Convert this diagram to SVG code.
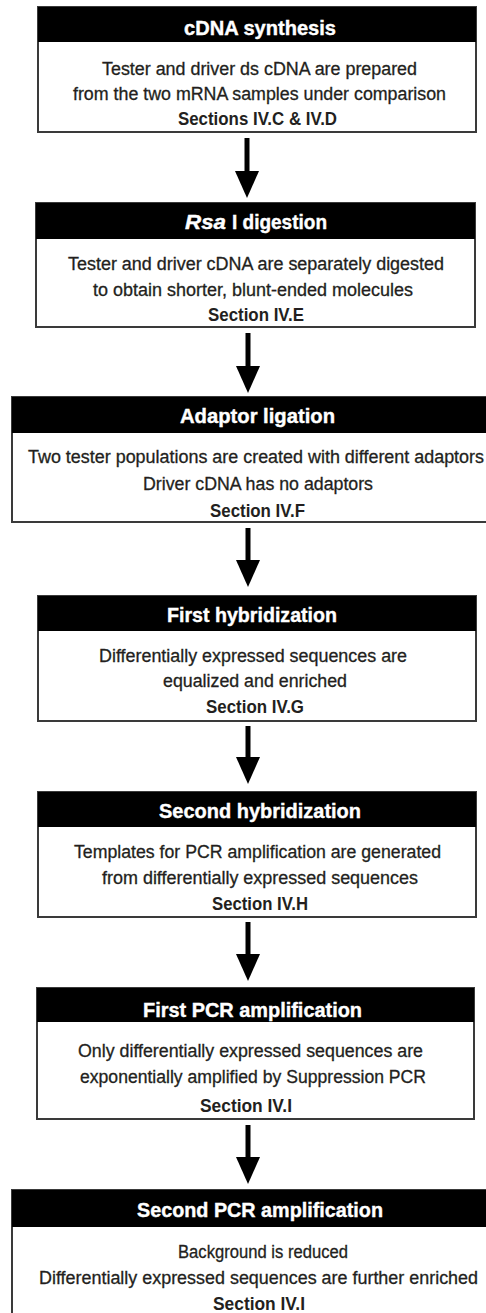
<svg xmlns="http://www.w3.org/2000/svg" width="486" height="1313" viewBox="0 0 486 1313">
  <style>
    .frame { fill: #ffffff; stroke: #3a3a3a; stroke-width: 2; }
    .bar { fill: #000000; }
    .title { font-family: "Liberation Sans", Arial, sans-serif; font-weight: bold; font-size: 20.5px; fill: #ffffff; stroke: #ffffff; stroke-width: 0.4; }
    .body { font-family: "Liberation Sans", Arial, sans-serif; font-size: 18px; fill: #231f20; stroke: #231f20; stroke-width: 0.3; }
    .ref { font-family: "Liberation Sans", Arial, sans-serif; font-weight: bold; font-size: 18px; fill: #231f20; }
    .flow { stroke: #000000; stroke-width: 5; fill: none; marker-end: url(#head); }
  </style>
  <defs>
    <marker id="head" markerUnits="userSpaceOnUse" markerWidth="28" markerHeight="24" refX="1" refY="12" orient="auto">
      <path d="M0,0 L27,12 L0,24 Z" fill="#000000"/>
    </marker>
  </defs>

  <!-- step connectors -->
  <g id="connectors">
    <line class="flow" x1="247" y1="138" x2="247" y2="172"/>
    <line class="flow" x1="248" y1="333" x2="248" y2="367"/>
    <line class="flow" x1="248" y1="528" x2="248" y2="561"/>
    <line class="flow" x1="248" y1="726" x2="248" y2="758"/>
    <line class="flow" x1="248" y1="922" x2="248" y2="955"/>
    <line class="flow" x1="248" y1="1125" x2="248" y2="1158"/>
  </g>

  <g id="cdna-synthesis">
    <rect class="frame" x="38" y="7" width="438" height="125"/>
    <rect class="bar" x="38" y="7" width="438" height="35"/>
    <text class="title" x="184" y="35" textLength="152" lengthAdjust="spacingAndGlyphs">cDNA synthesis</text>
    <text class="body" x="102" y="75" textLength="315" lengthAdjust="spacingAndGlyphs">Tester and driver ds cDNA are prepared</text>
    <text class="body" x="73" y="100" textLength="373" lengthAdjust="spacingAndGlyphs">from the two mRNA samples under comparison</text>
    <text class="ref" x="178" y="125" textLength="159" lengthAdjust="spacingAndGlyphs">Sections IV.C &amp; IV.D</text>
  </g>

  <g id="rsa-digestion">
    <rect class="frame" x="36" y="203" width="439" height="124"/>
    <rect class="bar" x="36" y="203" width="439" height="36"/>
    <text class="title" x="185" y="229" font-style="italic" textLength="41" lengthAdjust="spacingAndGlyphs">Rsa</text>
    <text class="title" x="232" y="229" textLength="95" lengthAdjust="spacingAndGlyphs">I digestion</text>
    <text class="body" x="68" y="270" textLength="376" lengthAdjust="spacingAndGlyphs">Tester and driver cDNA are separately digested</text>
    <text class="body" x="93" y="296" textLength="320" lengthAdjust="spacingAndGlyphs">to obtain shorter, blunt-ended molecules</text>
    <text class="ref" x="208" y="321" textLength="96" lengthAdjust="spacingAndGlyphs">Section IV.E</text>
  </g>

  <g id="adaptor-ligation">
    <rect class="frame" x="12" y="397" width="494" height="125"/>
    <rect class="bar" x="12" y="397" width="494" height="36"/>
    <text class="title" x="180" y="423" textLength="155" lengthAdjust="spacingAndGlyphs">Adaptor ligation</text>
    <text class="body" x="28" y="463" textLength="456" lengthAdjust="spacingAndGlyphs">Two tester populations are created with different adaptors</text>
    <text class="body" x="143" y="490" textLength="230" lengthAdjust="spacingAndGlyphs">Driver cDNA has no adaptors</text>
    <text class="ref" x="210" y="517" textLength="95" lengthAdjust="spacingAndGlyphs">Section IV.F</text>
  </g>

  <g id="first-hybridization">
    <rect class="frame" x="38" y="596" width="438" height="125"/>
    <rect class="bar" x="38" y="596" width="438" height="35"/>
    <text class="title" x="167" y="622" textLength="170" lengthAdjust="spacingAndGlyphs">First hybridization</text>
    <text class="body" x="99" y="662" textLength="308" lengthAdjust="spacingAndGlyphs">Differentially expressed sequences are</text>
    <text class="body" x="163" y="687" textLength="184" lengthAdjust="spacingAndGlyphs">equalized and enriched</text>
    <text class="ref" x="206" y="713" textLength="98" lengthAdjust="spacingAndGlyphs">Section IV.G</text>
  </g>

  <g id="second-hybridization">
    <rect class="frame" x="38" y="792" width="438" height="125"/>
    <rect class="bar" x="38" y="792" width="438" height="35"/>
    <text class="title" x="159" y="818" textLength="202" lengthAdjust="spacingAndGlyphs">Second hybridization</text>
    <text class="body" x="74" y="858" textLength="367" lengthAdjust="spacingAndGlyphs">Templates for PCR amplification are generated</text>
    <text class="body" x="102" y="884" textLength="316" lengthAdjust="spacingAndGlyphs">from differentially expressed sequences</text>
    <text class="ref" x="212" y="910" textLength="96" lengthAdjust="spacingAndGlyphs">Section IV.H</text>
  </g>

  <g id="first-pcr">
    <rect class="frame" x="37" y="988" width="437" height="131"/>
    <rect class="bar" x="37" y="988" width="437" height="34"/>
    <text class="title" x="143" y="1017" textLength="219" lengthAdjust="spacingAndGlyphs">First PCR amplification</text>
    <text class="body" x="78" y="1057" textLength="345" lengthAdjust="spacingAndGlyphs">Only differentially expressed sequences are</text>
    <text class="body" x="80" y="1083" textLength="346" lengthAdjust="spacingAndGlyphs">exponentially amplified by Suppression PCR</text>
    <text class="ref" x="200" y="1112" textLength="92" lengthAdjust="spacingAndGlyphs">Section IV.I</text>
  </g>

  <g id="second-pcr">
    <rect class="frame" x="12" y="1190" width="494" height="140"/>
    <rect class="bar" x="12" y="1190" width="494" height="37"/>
    <text class="title" x="137" y="1217" textLength="246" lengthAdjust="spacingAndGlyphs">Second PCR amplification</text>
    <text class="body" x="178" y="1258" textLength="170" lengthAdjust="spacingAndGlyphs">Background is reduced</text>
    <text class="body" x="39" y="1284" textLength="439" lengthAdjust="spacingAndGlyphs">Differentially expressed sequences are further enriched</text>
    <text class="ref" x="213" y="1310" textLength="92" lengthAdjust="spacingAndGlyphs">Section IV.I</text>
  </g>
</svg>
